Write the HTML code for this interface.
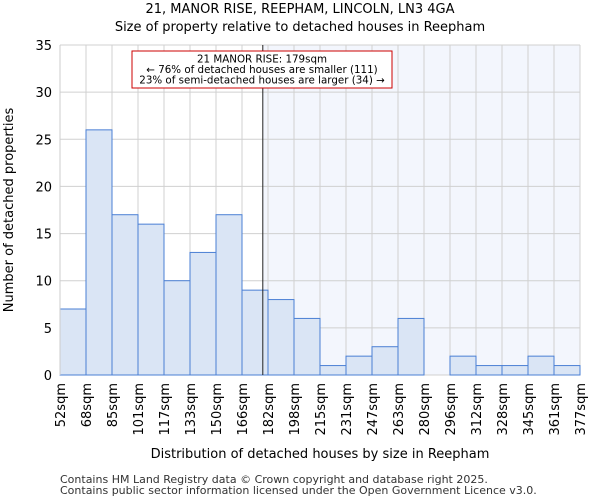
<!DOCTYPE html>
<html><head><meta charset="utf-8"><style>
body{margin:0;background:#fff;font-family:"DejaVu Sans","Liberation Sans",sans-serif;}
</style></head><body>
<svg id="chart" width="600" height="500" xmlns="http://www.w3.org/2000/svg" font-family="DejaVu Sans, Liberation Sans, sans-serif">
<text x="300" y="13" text-anchor="middle" font-size="13">21, MANOR RISE, REEPHAM, LINCOLN, LN3 4GA</text>
<text x="300" y="31" text-anchor="middle" font-size="13">Size of property relative to detached houses in Reepham</text>
<g id="grid"></g><g id="bars"></g><g id="axes"></g>
<text x="320" y="458" text-anchor="middle" font-size="13">Distribution of detached houses by size in Reepham</text>
<text transform="translate(13,210) rotate(-90)" text-anchor="middle" font-size="13">Number of detached properties</text>
<text x="60" y="483" font-size="11" fill="#333">Contains HM Land Registry data © Crown copyright and database right 2025.</text>
<text x="60" y="494" font-size="11" fill="#333">Contains public sector information licensed under the Open Government Licence v3.0.</text>
</svg>
<script>
const binLabels=["52sqm","68sqm","85sqm","101sqm","117sqm","133sqm","150sqm","166sqm","182sqm","198sqm","215sqm","231sqm","247sqm","263sqm","280sqm","296sqm","312sqm","328sqm","345sqm","361sqm","377sqm"];
const counts=[7,26,17,16,10,13,17,9,8,6,1,2,3,6,0,2,1,1,2,1];
const yTicks=[0,5,10,15,20,25,30,35];
const markerIndex=7.8;
const annotationLines=["21 MANOR RISE: 179sqm","← 76% of detached houses are smaller (111)","23% of semi-detached houses are larger (34) →"];
const NS="http://www.w3.org/2000/svg";
const L=60,R=580,T=45,B=375,yMax=35;
const bw=(R-L)/counts.length;
const x=i=>L+i*bw, y=v=>B-(v/yMax)*(B-T);
function mk(tag,attrs,parent,txt){const e=document.createElementNS(NS,tag);for(const k in attrs)e.setAttribute(k,attrs[k]);if(txt!==undefined)e.textContent=txt;document.getElementById(parent).appendChild(e);return e;}
const mx=x(markerIndex);
let sh=mk('rect',{x:mx,y:T,width:R-mx,height:B-T,fill:'#f3f6fd'},'grid');

yTicks.forEach(t=>{let g=mk('line',{x1:L,x2:R,y1:y(t),y2:y(t),stroke:'#d0d0d0'},'grid');

let tl=mk('text',{x:L-8,y:y(t)+5,'text-anchor':'end','font-size':13},'axes',t);
});
binLabels.forEach((lab,i)=>{let g=mk('line',{x1:x(i),x2:x(i),y1:T,y2:B,stroke:'#d0d0d0'},'grid');

let tl=mk('text',{transform:`translate(${x(i)+5},${B+8}) rotate(-90)`,'text-anchor':'end','font-size':13},'axes',lab);
});
counts.forEach((c,i)=>{if(c<=0)return;let b=mk('rect',{x:x(i),y:y(c),width:bw,height:B-y(c),fill:'#dae5f5',stroke:'#4a7fd4','stroke-width':1},'bars');
});
let ml=mk('line',{x1:mx,x2:mx,y1:T,y2:B,stroke:'#222','stroke-width':1},'axes');

let box=mk('rect',{x:132,y:51,width:260,height:37,fill:'#fff',stroke:'#cc0000','stroke-width':1},'axes');

annotationLines.forEach((s,i)=>{let t=mk('text',{x:262,y:62.5+i*10.5,'text-anchor':'middle','font-size':10.3},'axes',s);
});
let ax=mk('line',{x1:L,x2:L,y1:T,y2:B,stroke:'#ccc'},'axes');

</script>
</body></html>
